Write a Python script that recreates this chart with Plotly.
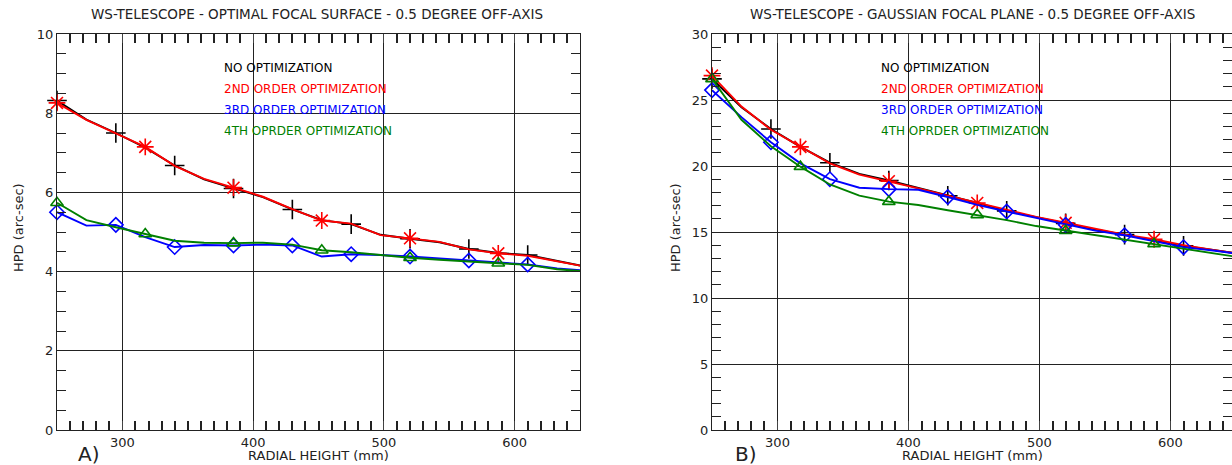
import plotly.graph_objects as go

W, H = 1232, 465

radial = [250, 272.5, 295, 317.5, 340, 362.5, 385, 407.5, 430, 452.5, 475,
          497.5, 520, 542.5, 565, 587.5, 610, 632.5, 655]

# Panel A: optimal focal surface
no_opt_A = [8.32, 7.84, 7.50, 7.13, 6.68, 6.33, 6.10, 5.88, 5.57, 5.30, 5.20,
            4.93, 4.83, 4.74, 4.57, 4.47, 4.42, 4.28, 4.12]
ord2_A = [8.26, 7.83, 7.49, 7.15, 6.67, 6.34, 6.12, 5.89, 5.58, 5.29, 5.21,
          4.92, 4.84, 4.75, 4.56, 4.46, 4.40, 4.27, 4.12]
ord3_A = [5.50, 5.16, 5.18, 4.87, 4.62, 4.67, 4.66, 4.68, 4.66, 4.38, 4.44,
          4.42, 4.38, 4.33, 4.28, 4.23, 4.18, 4.08, 4.02]
ord4_A = [5.74, 5.30, 5.12, 4.95, 4.78, 4.73, 4.72, 4.73, 4.68, 4.54, 4.49,
          4.42, 4.35, 4.30, 4.25, 4.21, 4.17, 4.06, 4.00]

# Panel B: gaussian focal plane
no_opt_B = [26.6, 24.45, 22.8, 21.45, 20.25, 19.4, 18.9, 18.35, 17.75, 17.2, 16.6,
            16.1, 15.65, 15.2, 14.8, 14.4, 13.95, 13.65, 13.3]
ord2_B = [26.85, 24.5, 22.75, 21.45, 20.2, 19.35, 18.85, 18.3, 17.75, 17.2, 16.65,
          16.15, 15.7, 15.25, 14.8, 14.45, 14.0, 13.65, 13.3]
ord3_B = [25.75, 23.7, 21.8, 20.2, 19.0, 18.35, 18.25, 18.2, 17.65, 17.05, 16.55,
          16.05, 15.55, 15.1, 14.75, 14.3, 13.85, 13.6, 13.3]
ord4_B = [26.6, 23.5, 21.5, 19.95, 18.6, 17.75, 17.3, 17.05, 16.65, 16.3, 15.9,
          15.45, 15.1, 14.8, 14.4, 14.1, 13.75, 13.4, 13.05]

labels = ["NO OPTIMIZATION", "2ND ORDER OPTIMIZATION", "3RD ORDER OPTIMIZATION",
          "4TH OPRDER OPTIMIZATION"]
colors = ["#000000", "#ff0000", "#0000ff", "#008000"]
symbols = ["cross-thin-open", "asterisk-open", "diamond-open", "triangle-up-open"]
sizes = [14, 14, 11, 11]
steps = [2, 3, 2, 3]

FONT = "DejaVu Sans"

def xp(px):
    return px / W

def yp(py):
    return 1 - py / H

fig = go.Figure()

panels = [
    ("x", "y", [no_opt_A, ord2_A, ord3_A, ord4_A]),
    ("x2", "y2", [no_opt_B, ord2_B, ord3_B, ord4_B]),
]

for xa, ya, series in panels:
    for vals, c, sym, sz, st in zip(series, colors, symbols, sizes, steps):
        fig.add_trace(go.Scatter(x=radial, y=vals, mode="lines", xaxis=xa, yaxis=ya,
                                 line=dict(color=c, width=1.9), showlegend=False,
                                 hoverinfo="skip"))
        mx = radial[:-1][::st]
        my = vals[:-1][::st]
        fig.add_trace(go.Scatter(x=mx, y=my, mode="markers", xaxis=xa, yaxis=ya,
                                 marker=dict(symbol=sym, size=sz, color=c,
                                             line=dict(color=c, width=1.6)),
                                 cliponaxis=False, showlegend=False))

ydom = [yp(430), yp(34)]
AX = "#222222"

def xaxis(dom, rng, **extra):
    d = dict(domain=dom, range=rng, tick0=300, dtick=100,
             showline=True, mirror="ticks", ticks="inside", ticklen=9,
             automargin=False, linecolor=AX, showgrid=True, gridcolor=AX,
             tickfont=dict(family=FONT, size=13, color=AX),
             minor=dict(dtick=10, ticks="inside", ticklen=9, tickcolor=AX,
                        tickwidth=1.5, showgrid=True,
                        gridcolor="rgba(255,255,255,0)"))
    d.update(extra)
    return d

def yaxis(rng, dt, mdt, anchor):
    return dict(domain=ydom, range=rng, dtick=dt, tick0=0, showgrid=True,
                gridcolor=AX, gridwidth=1, zeroline=False, showline=True,
                linecolor=AX, linewidth=1, mirror="ticks", ticks="inside",
                ticklen=9, tickcolor=AX, anchor=anchor, automargin=False,
                tickfont=dict(family=FONT, size=13, color=AX),
                minor=dict(dtick=mdt, ticks="inside", ticklen=9,
                           tickcolor=AX, tickwidth=1.2, showgrid=False))

fig.update_layout(
    width=W, height=H, margin=dict(l=0, r=0, t=0, b=0),
    paper_bgcolor="white", plot_bgcolor="white",
    xaxis=xaxis([xp(57), xp(580)], [250, 650]),
    yaxis=yaxis([0, 10], 2, 0.5, "x"),
    xaxis2=xaxis([xp(712), 1.0], [250, 647], anchor="y2"),
    yaxis2=yaxis([0, 30], 5, 1, "x2"),
)

ann = []
def add_text(text, x, y, size=12, color="#222222", xanchor="center", angle=0):
    ann.append(dict(text=text, x=xp(x), y=yp(y), xref="paper", yref="paper",
                    showarrow=False, xanchor=xanchor, yanchor="middle",
                    textangle=angle,
                    font=dict(family=FONT, size=size, color=color)))

add_text("WS-TELESCOPE - OPTIMAL FOCAL SURFACE - 0.5 DEGREE OFF-AXIS", 317, 14, size=13.5)
add_text("WS-TELESCOPE - GAUSSIAN FOCAL PLANE - 0.5 DEGREE OFF-AXIS", 972, 14, size=13.5)
add_text("RADIAL HEIGHT (mm)", 318, 455, size=13)
add_text("RADIAL HEIGHT (mm)", 972, 455, size=13)
add_text("HPD (arc-sec)", 19, 228, size=13, angle=-90)
add_text("HPD (arc-sec)", 676, 228, size=13, angle=-90)
add_text("A)", 88, 454, size=20)
add_text("B)", 746, 454, size=20)

for i, (lab, c) in enumerate(zip(labels, colors)):
    add_text(lab, 222, 68 + 21 * i, color=c, xanchor="left")
    add_text(lab, 879, 68 + 21 * i, color=c, xanchor="left")

fig.update_layout(annotations=ann)
fig.write_html("out.html")
